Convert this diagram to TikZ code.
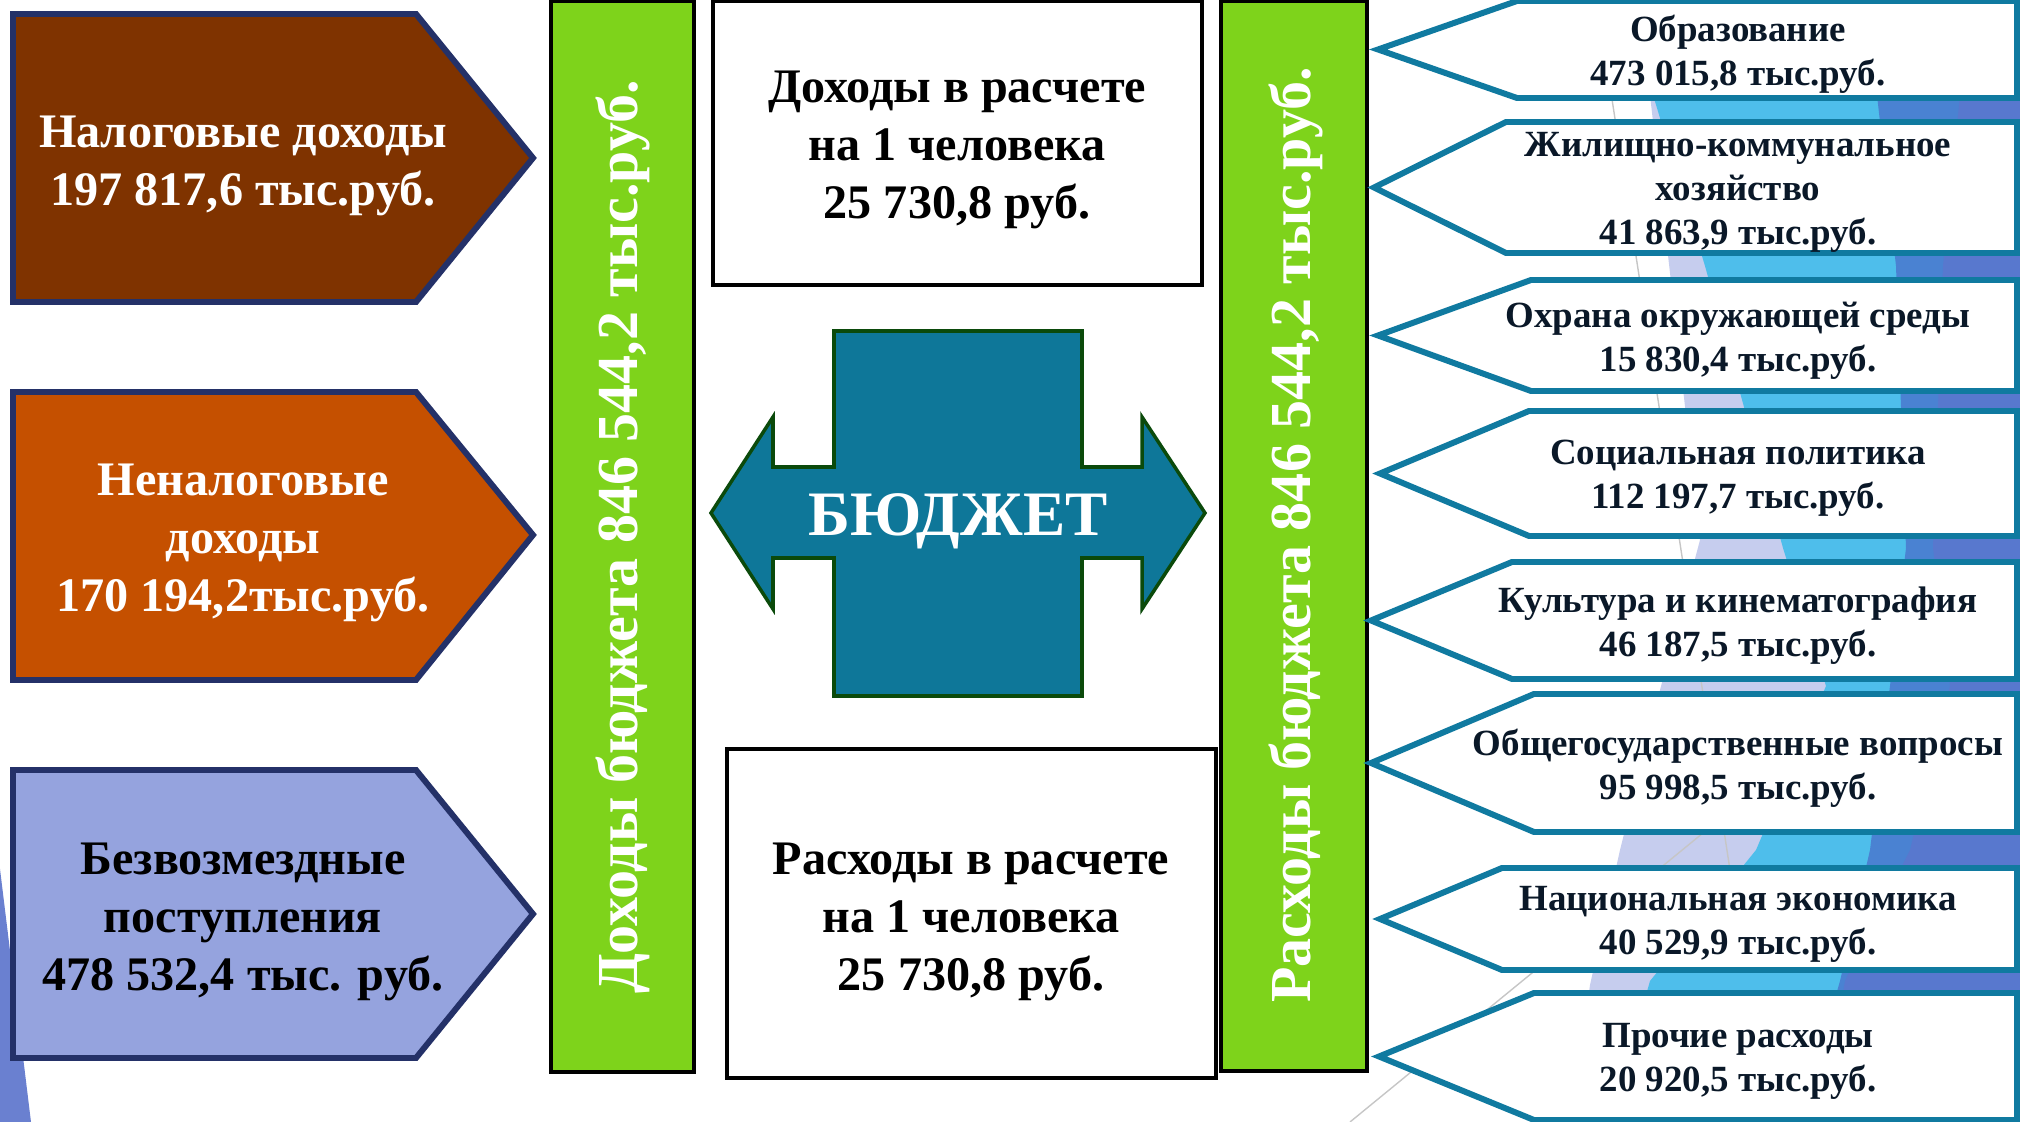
\documentclass[tikz,border=0pt]{standalone}
\usepackage{fontspec}
\setmainfont{Liberation Serif}
\usepackage{xcolor}
\usepackage{tikz}
\definecolor{taxbrown}{RGB}{127, 51, 0}
\definecolor{nontaxorange}{RGB}{197, 80, 0}
\definecolor{grantlav}{RGB}{149, 163, 222}
\definecolor{framenavy}{RGB}{36, 49, 104}
\definecolor{bargreen}{RGB}{126, 211, 27}
\definecolor{budgetteal}{RGB}{14, 119, 153}
\definecolor{budgetedge}{RGB}{11, 74, 11}
\definecolor{costedge}{RGB}{16, 122, 160}
\definecolor{costink}{RGB}{10, 24, 40}
\definecolor{facetpale}{RGB}{198, 205, 238}
\definecolor{facetsky}{RGB}{78, 190, 235}
\definecolor{facetmid}{RGB}{74, 130, 210}
\definecolor{facetdark}{RGB}{88, 120, 206}
\definecolor{cornerblue}{RGB}{106, 128, 208}

\begin{document}
\begin{tikzpicture}[x=0.01cm, y=-0.01cm,
  incomebox/.style={draw=framenavy, line width=1.7pt, line join=miter},
  costbox/.style={draw=costedge, fill=white, line width=1.7pt, line join=miter},
  barbox/.style={draw=black, fill=bargreen, line width=1.1pt},
  infobox/.style={draw=black, fill=white, line width=1.1pt},
  bigtext/.style={font=\fontsize{13.7}{16.4}\selectfont\bfseries, align=center},
  costtext/.style={font=\fontsize{10.5}{12.5}\selectfont\bfseries, align=center, text=costink},
  bartext/.style={font=\fontsize{16.5}{18}\selectfont\bfseries, text=white, rotate=90}]
\useasboundingbox (0,0) rectangle (2020,1122);

% Background facets
\fill[facetpale] (1650,95) -- (2020,95) -- (2020,1122) -- (1570,1122) -- (1590,985) -- (1620,850) -- (1660,690) -- (1700,540) -- cycle;
\fill[facetsky] (1653,95) -- (2020,95) -- (2020,1122) -- (1610,1122) -- (1650,981) -- (1756,850) -- (1826,686) -- (1783,548) -- (1705,266) -- cycle;
\fill[facetmid] (1877,95) -- (2020,95) -- (2020,1122) -- (1800,1122) -- (1840,981) -- (1870,850) -- (1890,686) -- (1906,548) -- (1896,266) -- cycle;
\fill[facetdark] (1960,95) -- (2020,95) -- (2020,1122) -- (1820,1122) -- (1845,981) -- (1910,850) -- (1950,686) -- (1933,548) -- (1943,266) -- cycle;
\draw[gray!45, line width=0.4pt] (1606,60) -- (1730,870);
\draw[gray!45, line width=0.4pt] (1350,1122) -- (1703,833);
\fill[cornerblue] (0,869) -- (31,1122) -- (0,1122) -- cycle;

% Income bar
\draw[barbox] (551,1) rectangle (694,1072);
\node[bartext] (inbar) at (623,537) {Доходы бюджета 846 544,2 тыс.руб.};

% Cost bar
\draw[barbox] (1221,1) rectangle (1367,1071);
\node[bartext] (costbar) at (1296,535) {Расходы бюджета 846 544,2 тыс.руб.};

% Per person boxes
\draw[infobox] (713,1) rectangle (1202,285);
\node[bigtext] (inperson) at (957,150) {Доходы в расчете\\на 1 человека\\25 730,8 руб.};
\draw[infobox] (727,749) rectangle (1216,1078);
\node[bigtext] (costperson) at (971,922) {Расходы в расчете\\на 1 человека\\25 730,8 руб.};

% Tax income
\draw[incomebox, fill=taxbrown] (13,14) -- (416,14) -- (533,158) -- (416,302) -- (13,302) -- cycle;
\node[bigtext, text=white] (tax) at (243,166) {Налоговые доходы\\197 817,6 тыс.руб.};

% Non-tax income
\draw[incomebox, fill=nontaxorange] (13,392) -- (416,392) -- (533,535) -- (416,680) -- (13,680) -- cycle;
\node[bigtext, text=white] (nontax) at (243,543) {Неналоговые\\доходы\\170 194,2тыс.руб.};

% Grants
\draw[incomebox, fill=grantlav] (13,770) -- (416,770) -- (533,914) -- (416,1058) -- (13,1058) -- cycle;
\node[bigtext, text=black] (grants) at (243,922) {Безвозмездные\\поступления\\478 532,4 тыс. руб.};

% Budget
\draw[fill=budgetteal, draw=budgetedge, line width=1pt, line join=miter]
  (834,331) -- (1082,331) -- (1082,467) -- (1142,467) -- (1142,417) -- (1205,513)
  -- (1142,609) -- (1142,558) -- (1082,558) -- (1082,696) -- (834,696) -- (834,558)
  -- (773,558) -- (773,609) -- (711,513) -- (773,417) -- (773,467) -- (834,467) -- cycle;
\node[font=\fontsize{18}{20}\selectfont\bfseries, text=white] (budget) at (958,521) {БЮДЖЕТ};

% Costs
\foreach \ya/\yb/\xt/\xc/\nm/\txt in {
  1/98/1378/1517/edu/{Образование\\473 015,8 тыс.руб.},
  122/253/1374/1506/housing/{Жилищно-коммунальное\\хозяйство\\41 863,9 тыс.руб.},
  280/391/1378/1531/nature/{Охрана окружающей среды\\15 830,4 тыс.руб.},
  411/536/1380/1529/social/{Социальная политика\\112 197,7 тыс.руб.},
  562/679/1371/1512/culture/{Культура и кинематография\\46 187,5 тыс.руб.},
  694/832/1371/1534/general/{Общегосударственные вопросы\\95 998,5 тыс.руб.},
  868/970/1380/1502/economy/{Национальная экономика\\40 529,9 тыс.руб.},
  993/1120/1379/1534/other/{Прочие расходы\\20 920,5 тыс.руб.}} {
  \draw[costbox] (2017,\ya) -- (\xc,\ya) -- (\xt,{(\ya+\yb)/2}) -- (\xc,\yb) -- (2017,\yb) -- cycle;
  \node[costtext] (\nm) at (1738,{(\ya+\yb)/2+5}) {\txt};
}
\end{tikzpicture}
\end{document}
